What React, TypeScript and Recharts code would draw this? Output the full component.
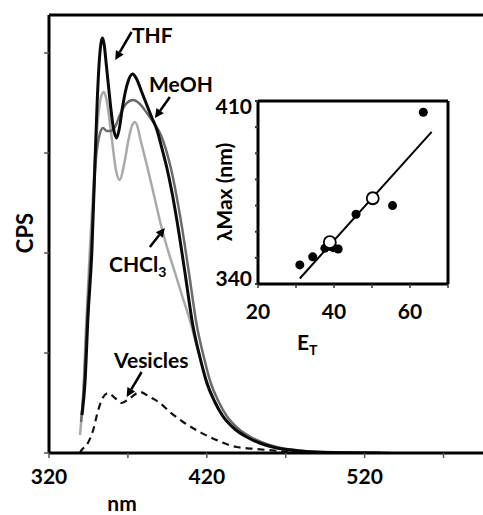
import React from "react";
import { ComposedChart, Line, XAxis, YAxis, ReferenceLine, Scatter } from "recharts";

const FONT = "Lato, 'Open Sans', sans-serif";

// main spectra: [nm, CPS (arb.)]
const nmTicks = [320, 370, 420, 470, 520, 570];
const nmLabels = [320, 420, 520];
const cpsTicks = [0, 1, 2, 3, 4];

const thf: [number, number][] = [
  [340.9, 0.38], [342.8, 0.7], [344.7, 1.36], [347.2, 2.03], [349, 2.85], [350.5, 3.5],
  [352, 3.95], [353.2, 4.12], [354, 4.15], [355, 4.08], [356.2, 3.9], [357.5, 3.7],
  [359, 3.47], [360.7, 3.26], [362.8, 3.15], [364.5, 3.24], [366.5, 3.45], [368.5, 3.62],
  [370.2, 3.72], [373, 3.79], [375.5, 3.74], [379, 3.6], [382, 3.48], [385, 3.36],
  [388.4, 3.23], [391.5, 3.05], [394.7, 2.85], [398, 2.6], [401, 2.33], [406.1, 1.81],
  [411.1, 1.28], [415.6, 0.96], [420, 0.7], [425.1, 0.51], [430.1, 0.37], [437.7, 0.24],
  [445.3, 0.16], [453.5, 0.1], [461.8, 0.06], [478.9, 0.02], [499.7, 0.005], [530, 0],
];

const meoh: [number, number][] = [
  [340.3, 0.31], [342.2, 0.7], [344.1, 1.36], [346.6, 2.03], [349.7, 2.93], [352, 3.18],
  [354.2, 3.25], [356.7, 3.22], [358.6, 3.22], [361.8, 3.26], [364.9, 3.38], [368.7, 3.49],
  [373.2, 3.53], [377.6, 3.49], [382, 3.4], [386.5, 3.3], [390.9, 3.18], [397.2, 2.85],
  [403.5, 2.33], [408.6, 1.81], [413.6, 1.28], [418.1, 0.96], [422.5, 0.7], [427.6, 0.51],
  [432.6, 0.37], [440.2, 0.24], [447.8, 0.16], [456, 0.1], [464.3, 0.06], [481.4, 0.02],
  [502.2, 0.005], [535, 0],
];

const chcl3: [number, number][] = [
  [339.6, 0.18], [341.5, 0.53], [343.4, 1.23], [345.9, 2.03], [349.1, 2.93], [351.6, 3.43],
  [353.3, 3.58], [354.8, 3.61], [356.2, 3.55], [357.3, 3.45], [359.9, 3.13], [362.4, 2.83],
  [364.9, 2.73], [367.5, 2.88], [370.6, 3.15], [372.5, 3.27], [374.4, 3.31], [376.3, 3.25],
  [377.6, 3.16], [382, 2.88], [386.5, 2.58], [390.9, 2.28], [395.3, 2.03], [399.7, 1.81],
  [404.2, 1.58], [409.2, 1.33], [414.3, 1.03], [419.4, 0.75], [424.4, 0.53], [430.8, 0.35],
  [438.4, 0.23], [446.6, 0.15], [454.8, 0.09], [464.3, 0.05], [480.1, 0.02], [502.3, 0.004],
  [536, 0],
];

const vesicles: [number, number][] = [
  [339.5, 0], [340.7, 0.03], [343.9, 0.08], [348, 0.23], [351.2, 0.43], [354.4, 0.56],
  [357.5, 0.6], [361.8, 0.55], [366, 0.5], [371.3, 0.55], [377.6, 0.61], [383.9, 0.56],
  [390.3, 0.5], [396.6, 0.41], [405, 0.31], [415.6, 0.21], [426.1, 0.13], [438.8, 0.06],
  [451.5, 0.04], [472.5, 0.013], [497.8, 0],
];

// arrows [tail, head] in data units
const arrows: [number, number][][] = [
  [[372.3, 4.21], [362.0, 3.93]],
  [[396.6, 3.56], [387.1, 3.35]],
  [[383.9, 2.06], [393.4, 2.25]],
  [[378.7, 0.81], [369.2, 0.56]],
];

// inset: E_T vs lambda max
const etTicks = [20, 30, 40, 50, 60, 70];
const etLabels = [20, 40, 60];
const lamTicks = [340, 345, 350, 355, 360, 365, 370, 375, 380, 385, 390, 395, 400, 405, 410];
const lamLabels = [340, 410];

const filledPts: [number, number][] = [
  [31.0, 347.3], [34.4, 350.4], [37.6, 353.7], [38.6, 354.4], [39.8, 353.9],
  [41.1, 353.4], [45.8, 366.7], [55.4, 370.0], [63.5, 405.7],
];
const openPts: [number, number][] = [[38.9, 356.0], [50.2, 372.8]];
const fitLine: [number, number][] = [[31.0, 342.1], [65.7, 398.2]];

const toSpec = (a: [number, number][]) => a.map(([nm, v]) => ({ nm, v }));
const toEt = (a: [number, number][]) => a.map(([et, lam]) => ({ et, lam }));

const Arrow = (p: any) => {
  const { x1, y1, x2, y2 } = p;
  const ang = Math.atan2(y2 - y1, x2 - x1);
  const len = 9;
  const w = 4.5;
  const bx = x2 - len * Math.cos(ang);
  const by = y2 - len * Math.sin(ang);
  const px = -Math.sin(ang) * w;
  const py = Math.cos(ang) * w;
  return (
    <g>
      <line x1={x1} y1={y1} x2={bx} y2={by} stroke="#000" strokeWidth={2.5} />
      <polygon points={`${x2},${y2} ${bx + px},${by + py} ${bx - px},${by - py}`} fill="#000" />
    </g>
  );
};

const InsetYTick = (p: any) => {
  const v = p.payload.value;
  if (!lamLabels.includes(v)) return <g />;
  return (
    <text x={p.x} y={p.y + (v === 410 ? 6 : -5)} dy="0.35em" textAnchor="end"
      fontFamily={FONT} fontWeight="bold" fontSize={21} fill="#000">
      {v}
    </text>
  );
};

const tickStyle = { fill: "#000", fontSize: 21, fontWeight: "bold", fontFamily: FONT };

export default function App() {
  return (
    <div style={{ position: "absolute", left: 0, top: 0, width: 483, height: 515, background: "#fff" }}>
      <ComposedChart width={483} height={515} margin={{ top: 15, right: 0, bottom: 0, left: 0 }}>
        <XAxis dataKey="nm" type="number" domain={[320, 595]} ticks={nmTicks} height={62}
          tickFormatter={(v: number) => (nmLabels.includes(v) ? String(v) : "")}
          axisLine={{ stroke: "#000", strokeWidth: 3 }} tickLine={{ stroke: "#555", strokeWidth: 1.5 }}
          tickSize={5} tickMargin={11} tick={tickStyle} allowDataOverflow />
        <YAxis type="number" domain={[0, 4.38]} ticks={cpsTicks} width={49}
          tickFormatter={() => ""} axisLine={{ stroke: "#000", strokeWidth: 3 }}
          tickLine={{ stroke: "#555", strokeWidth: 1.5 }} tickSize={5} allowDataOverflow />
        <ReferenceLine y={4.38} stroke="#000" strokeWidth={3} />
        <Line data={toSpec(vesicles)} dataKey="v" type="monotone" stroke="#111" strokeWidth={2.2}
          strokeDasharray="7 5" dot={false} isAnimationActive={false} />
        <Line data={toSpec(chcl3)} dataKey="v" type="monotone" stroke="#a9a9a9" strokeWidth={2.5}
          dot={false} isAnimationActive={false} />
        <Line data={toSpec(meoh)} dataKey="v" type="monotone" stroke="#6b6b6b" strokeWidth={2.5}
          dot={false} isAnimationActive={false} />
        <Line data={toSpec(thf)} dataKey="v" type="monotone" stroke="#0a0a0a" strokeWidth={3}
          dot={false} isAnimationActive={false} />
        {arrows.map((a, i) => (
          <ReferenceLine key={i} segment={[{ x: a[0][0], y: a[0][1] }, { x: a[1][0], y: a[1][1] }]}
            shape={Arrow} />
        ))}
      </ComposedChart>

      <div style={{ position: "absolute", left: 200, top: 80 }}>
        <ComposedChart width={260} height={250} margin={{ top: 21, right: 12, bottom: 0, left: 0 }}>
          <XAxis dataKey="et" type="number" domain={[20, 70]} ticks={etTicks} height={46}
            tickFormatter={(v: number) => (etLabels.includes(v) ? String(v) : "")}
            axisLine={{ stroke: "#000", strokeWidth: 3 }} tickLine={{ stroke: "#333", strokeWidth: 1.5 }}
            tickSize={4} tickMargin={16} tick={tickStyle} />
          <YAxis dataKey="lam" type="number" domain={[340, 410]} ticks={lamTicks} width={58}
            axisLine={{ stroke: "#000", strokeWidth: 3 }} tickLine={{ stroke: "#333", strokeWidth: 2 }}
            tickSize={3} tickMargin={3} tick={<InsetYTick />} />
          <ReferenceLine y={410} stroke="#000" strokeWidth={3} />
          <ReferenceLine x={70} stroke="#000" strokeWidth={3} />
          <Line data={toEt(fitLine)} dataKey="lam" type="linear" stroke="#000" strokeWidth={2}
            dot={false} isAnimationActive={false} />
          <Scatter data={toEt(filledPts)} isAnimationActive={false}
            shape={(p: any) => <circle cx={p.cx} cy={p.cy} r={4.5} fill="#000" />} />
          <Scatter data={toEt(openPts)} isAnimationActive={false}
            shape={(p: any) => <circle cx={p.cx} cy={p.cy} r={6} fill="#fff" stroke="#000" strokeWidth={1.8} />} />
        </ComposedChart>
      </div>

      <svg width={483} height={515} style={{ position: "absolute", left: 0, top: 0, pointerEvents: "none" }}
        fontFamily={FONT} fontWeight="bold" fontSize={21} fill="#000">
        <text x={132} y={43}>THF</text>
        <text x={149} y={92}>MeOH</text>
        <text x={109} y={272}>CHCl<tspan fontSize={14} dy={5}>3</tspan></text>
        <text x={114} y={368}>Vesicles</text>
        <text x={122} y={511} textAnchor="middle">nm</text>
        <text transform="translate(33,233) rotate(-90)" textAnchor="middle" fontSize={22}>CPS</text>
        <text transform="translate(232,192) rotate(-90)" textAnchor="middle">λMax (nm)</text>
        <text x={297} y={350}>E<tspan fontSize={14} dy={5}>T</tspan></text>
      </svg>
    </div>
  );
}
